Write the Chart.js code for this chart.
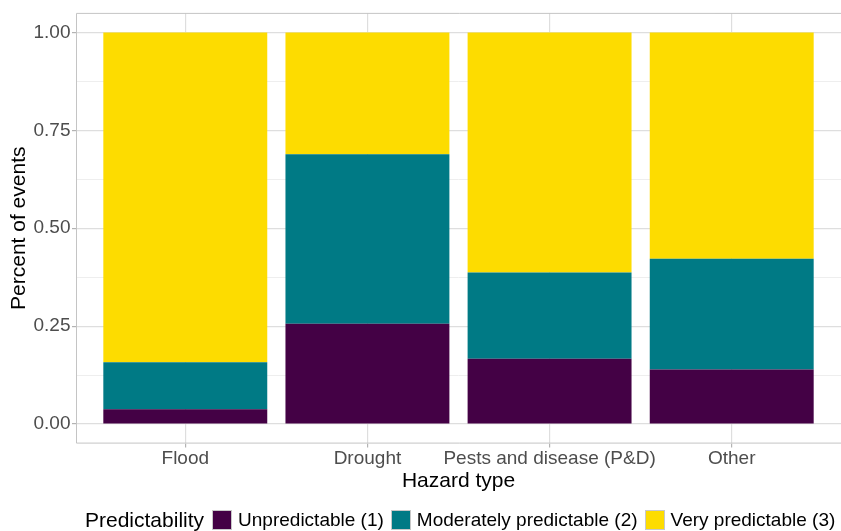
<!DOCTYPE html>
<html>
<head>
<meta charset="utf-8">
<script src="https://cdn.jsdelivr.net/npm/chart.js@4/dist/chart.umd.min.js"></script>
<style>
  body{margin:0;background:#fff;font-family:'Liberation Sans',Arial,sans-serif;}
  #wrap{position:relative;width:841px;height:531px;}
  #legend{position:absolute;left:85px;top:508px;height:24px;display:flex;align-items:center;white-space:nowrap;color:#000;}
  #legend .ttl{font-size:21px;margin-right:8px;}
  #legend .key{width:18px;height:18px;border:1px solid #c8c8c8;margin-right:6px;}
  #legend .lbl{font-size:19px;margin-right:7px;}
</style>
</head>
<body>
<div id="wrap">
  <canvas id="chart" width="841" height="531"></canvas>
  <div id="legend"></div>
</div>
<script>
const categories = ['Flood','Drought','Pests and disease (P&D)','Other'];
const unpredictable = [0.038, 0.256, 0.167, 0.139];
const moderate = [0.120, 0.433, 0.220, 0.283];
const veryPredictable = [0.842, 0.311, 0.613, 0.578];
const seriesNames = ['Unpredictable (1)','Moderately predictable (2)','Very predictable (3)'];
const seriesColors = ['#440145','#007A85','#FDDC00'];
const yTicks = [0,0.125,0.25,0.375,0.5,0.625,0.75,0.875,1];

const FONT = "'Liberation Sans', Arial, sans-serif";

function toPoints(vals){ return vals.map((v,i)=>({x:i, y:v})); }

const datasets = [unpredictable, moderate, veryPredictable].map((vals,i)=>({
  label: seriesNames[i],
  data: toPoints(vals),
  backgroundColor: seriesColors[i],
  borderWidth: 0,
  categoryPercentage: 1,
  barPercentage: 0.9
}));

// panel border (right edge falls just outside the canvas in the original)
const panelBorder = {
  id:'panelBorder',
  afterDatasetsDraw(chart){
    const {ctx, chartArea:a} = chart;
    ctx.save();
    ctx.strokeStyle = '#c4c4c4'; ctx.lineWidth = 1;
    ctx.beginPath();
    ctx.moveTo(a.right+1, a.top+0.5); ctx.lineTo(a.left+0.5, a.top+0.5);
    ctx.lineTo(a.left+0.5, a.bottom-0.5); ctx.lineTo(a.right+1, a.bottom-0.5);
    ctx.stroke();
    ctx.restore();
  }
};

const isMajor = v => Math.abs(v*4 - Math.round(v*4)) < 1e-6;

new Chart(document.getElementById('chart'), {
  type:'bar',
  data:{datasets},
  plugins:[panelBorder],
  options:{
    responsive:false,
    animation:false,
    layout:{padding:{top:11.4, bottom:37.4, left:0, right:0}},
    plugins:{legend:{display:false}, tooltip:{enabled:false}},
    scales:{
      x:{
        type:'linear', stacked:true, min:-0.6, max:3.6, offset:false,
        afterBuildTicks: s => { s.ticks = categories.map((c,i)=>({value:i})); },
        afterFit: s => { s.height = 50; },
        ticks:{ callback: v => categories[v] ?? '', color:'#4d4d4d', font:{family:FONT, size:19}, padding:0, maxRotation:0, autoSkip:false },
        grid:{ offset:false, color:'#dedede', lineWidth:1.2, tickLength:4, tickColor:'#b3b3b3' },
        border:{ display:false },
        title:{ display:true, text:'Hazard type', color:'#000', font:{family:FONT, size:21}, padding:{top:0, bottom:0} }
      },
      y:{
        stacked:true, min:-0.05, max:1.05,
        afterBuildTicks: s => { s.ticks = yTicks.map(v=>({value:v})); },
        afterFit: s => { s.width = 76; },
        ticks:{ callback: v => isMajor(v) ? v.toFixed(2) : '', color:'#4d4d4d', font:{family:FONT, size:19}, padding:1.5 },
        grid:{
          color: c => (c.tick && isMajor(c.tick.value)) ? '#dedede' : '#ececec',
          lineWidth: c => (c.tick && isMajor(c.tick.value)) ? 1.2 : 0.9,
          tickLength:4,
          tickColor: c => (c.tick && isMajor(c.tick.value)) ? '#b3b3b3' : 'rgba(0,0,0,0)'
        },
        border:{ display:false },
        title:{ display:true, text:'Percent of events', color:'#000', font:{family:FONT, size:21}, padding:{top:7, bottom:0} }
      }
    }
  }
});

// legend row: title on the left, keys inline
const legend = document.getElementById('legend');
legend.innerHTML = '<span class="ttl">Predictability</span>' + seriesNames.map((n,i)=>
  `<span class="key" style="background:${seriesColors[i]}"></span><span class="lbl">${n}</span>`).join('');
</script>
</body>
</html>
